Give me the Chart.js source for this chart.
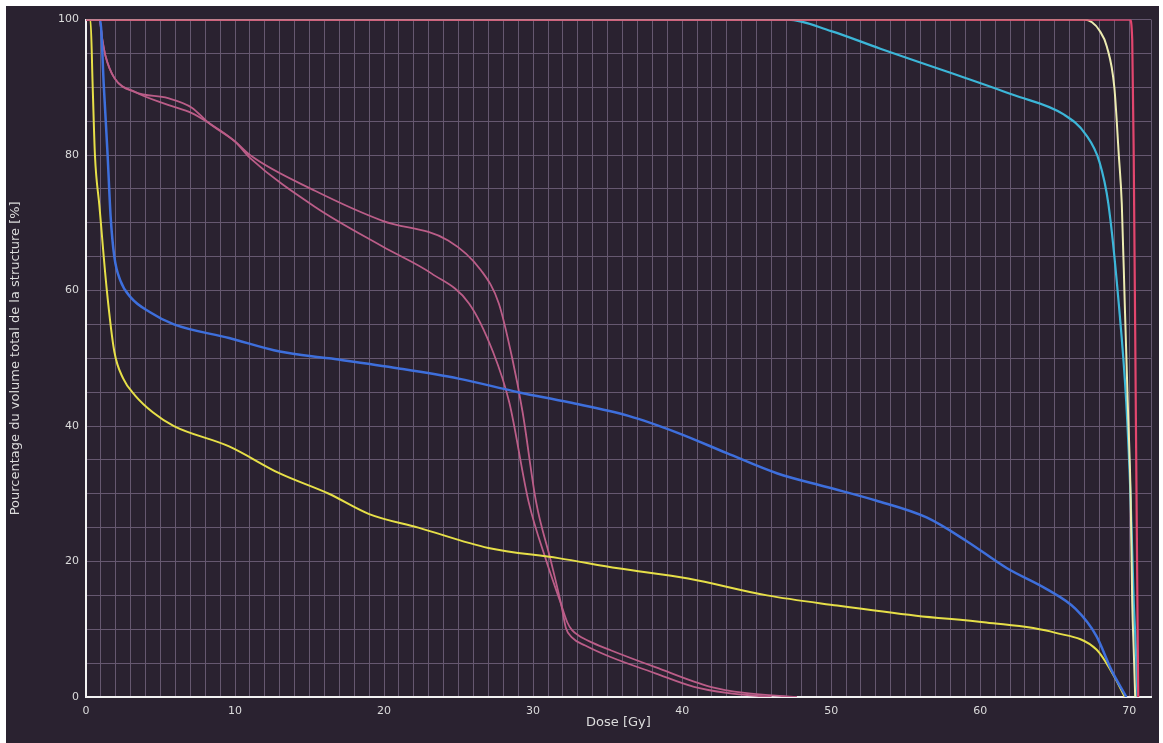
<!DOCTYPE html>
<html><head><meta charset="utf-8">
<script src="https://cdn.jsdelivr.net/npm/chart.js@4.4.1/dist/chart.umd.min.js"></script>
<style>
html,body{margin:0;padding:0;background:#fff;width:1163px;height:743px;overflow:hidden;}
#wrap{position:absolute;left:6px;top:6px;width:1153px;height:737px;background:#2a2230;}
canvas{display:block;}
</style></head><body>
<div id="wrap"><canvas id="c" width="1153" height="737"></canvas></div>
<script>
// Axis labels
const xTitle = 'Dose [Gy]';
const yTitle = 'Pourcentage du volume total de la structure [%]';
const xTickLabels = [0, 10, 20, 30, 40, 50, 60, 70];
const yTickLabels = [0, 20, 40, 60, 80, 100];

// Red
const redDose = [0, 70.05, 70.2, 70.3, 70.45, 70.6];
const redVol  = [100, 100, 97, 80, 40, 0];

// Pale yellow
const paleDose = [0, 67.0, 67.5, 68.0, 68.5, 69.0, 69.3, 69.5, 69.7, 69.9, 70.1, 70.2, 70.3, 70.4];
const paleVol  = [100, 100, 99.6, 98.4, 96, 90, 80, 72.8, 58, 43.5, 29, 14, 7, 0];

// Cyan
const cyanDose = [0, 47.1, 50, 53.3, 57.8, 62.2, 65.6, 67.1, 68.0, 68.6, 69.3, 69.8, 70.1, 70.3, 70.45, 70.55];
const cyanVol  = [100, 100, 98.3, 95.7, 92.3, 88.9, 86, 83, 79, 72.8, 58, 43.5, 28.8, 14.2, 6.9, 0];

// Blue
const blueDose = [0, 0.95, 1.2, 1.45, 1.65, 1.9, 2.3, 3.0, 4.3, 5.9, 9.6, 13, 16.3, 21, 25, 29, 32.4, 36.4, 39.7, 43, 46.4, 49.7, 53, 56.4, 59.1, 61.8, 64.4, 66.4, 67.8, 68.8, 69.8];
const blueVol  = [100, 100, 90, 80, 71, 65, 61.5, 59, 56.8, 55, 53, 51, 50, 48.5, 47, 45, 43.5, 41.5, 39, 36, 33, 31, 29, 26.5, 23, 19, 16, 13, 9, 4, 0];

// Yellow
const yellowDose = [0, 0.3, 0.45, 0.6, 0.9, 1.4, 1.9, 2.5, 3.3, 4.5, 5.9, 9.6, 13, 16.3, 19, 22.3, 27, 31.7, 35.7, 40.4, 45.7, 50.4, 55.7, 60.4, 65, 67.8, 69, 69.7];
const yellowVol  = [100, 100, 90, 80, 72.5, 60, 51, 47, 44.5, 42, 40, 37, 33, 30, 27, 25, 22, 20.5, 19, 17.5, 15, 13.5, 12, 11, 9.5, 7, 3, 0];

// Mauve curve 1
const mauve1Dose = [0, 0.9, 1.1, 1.3, 1.9, 3.3, 5.5, 7.1, 8.2, 10.0, 11.0, 15.4, 19.9, 24.3, 26.5, 27.7, 28.6, 29.3, 30.2, 31.2, 31.9, 32.2, 32.6, 33.5, 35.2, 38.2, 40.8, 43.0, 46.0];
const mauve1Vol  = [100, 100, 97, 94.7, 91.4, 89.3, 88.4, 87.0, 84.8, 82, 80, 74.7, 70.3, 67.4, 63, 58.1, 50, 42, 28.8, 20, 13.5, 10.2, 8.8, 7.6, 5.9, 3.5, 1.5, 0.6, 0];

// Mauve curve 2
const mauve2Dose = [0, 0.9, 1.1, 1.3, 1.9, 3.3, 5.5, 7.1, 8.2, 10.0, 11.0, 15.4, 19.9, 23.2, 25.7, 27.3, 28.4, 29.7, 30.9, 31.8, 32.3, 32.6, 33.1, 34.0, 35.2, 38.2, 41.9, 44.2, 47.7];
const mauve2Vol  = [100, 100, 97, 94.7, 91.4, 89.3, 87.4, 86.2, 84.8, 82, 79.6, 72.3, 66.5, 62.5, 58.1, 51, 43.5, 28.8, 20, 14.2, 11, 9.9, 9.0, 8.0, 6.9, 4.4, 1.5, 0.6, 0];

function pts(xs, ys) { return xs.map((x, i) => ({x: x, y: ys[i]})); }
function ds(label, xs, ys, color, w) {
  return {label: label, data: pts(xs, ys), borderColor: color, borderWidth: w,
          pointRadius: 0, fill: false, cubicInterpolationMode: 'monotone'};
}

const FONT = {family: 'DejaVu Sans', size: 11};
const TFONT = {family: 'DejaVu Sans', size: 13};
const TXT = '#dcdcdc';
const GRID = '#665870';

new Chart(document.getElementById('c'), {
  type: 'line',
  data: {
    datasets: [
      ds('Rouge', redDose, redVol, '#e2466e', 2.2),
      ds('Jaune pâle', paleDose, paleVol, '#ecebb0', 2),
      ds('Cyan', cyanDose, cyanVol, '#3cb6d8', 2.2),
      ds('Bleu', blueDose, blueVol, '#3e6fdc', 2.5),
      ds('Jaune', yellowDose, yellowVol, '#e6df48', 2),
      ds('Mauve 1', mauve1Dose, mauve1Vol, '#bb5d88', 1.8),
      ds('Mauve 2', mauve2Dose, mauve2Vol, '#bb5d88', 1.8)
    ]
  },
  options: {
    responsive: false,
    animation: false,
    devicePixelRatio: 1,
    layout: {padding: {left: 0, top: 8, right: 4, bottom: 0}},
    plugins: {legend: {display: false}, tooltip: {enabled: false}},
    scales: {
      x: {
        type: 'linear', min: 0, max: 71.46,
        afterFit: s => { s.height = 46; },
        grid: {color: GRID, lineWidth: 1, drawTicks: false},
        border: {color: '#f2f2f2', width: 2},
        ticks: {
          stepSize: 1, autoSkip: false, maxRotation: 0, padding: 8,
          color: TXT, font: FONT,
          callback: v => xTickLabels.includes(v) ? String(v) : ''
        },
        title: {display: true, text: xTitle, color: TXT, font: TFONT, padding: {top: 0, bottom: 13}}
      },
      y: {
        type: 'linear', min: 0, max: 100,
        afterFit: s => { s.width = 80; },
        grid: {color: GRID, lineWidth: 1, drawTicks: false},
        border: {color: '#f2f2f2', width: 2},
        ticks: {
          stepSize: 5, autoSkip: false, padding: 7,
          color: TXT, font: FONT,
          callback: v => yTickLabels.includes(v) ? String(v) : ''
        },
        title: {display: true, text: yTitle, color: TXT, font: TFONT, padding: {top: 2, bottom: 0}}
      }
    }
  }
});
</script>
</body></html>
